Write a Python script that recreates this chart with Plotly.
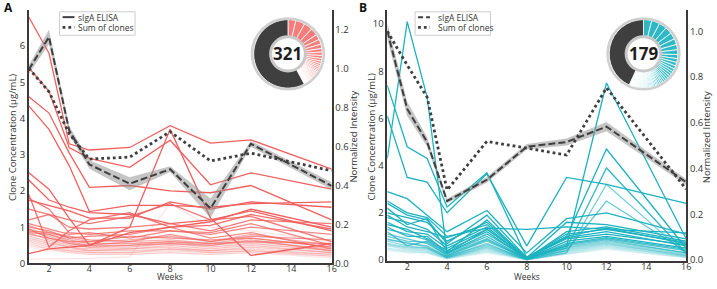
import plotly.graph_objects as go

W, H = 717, 289

weeks = [1, 2, 3, 4, 6, 8, 10, 12, 16]

# ---------------- Panel A data ----------------
elisa_a = [5.35, 6.25, 3.67, 2.73, 2.2, 2.6, 1.52, 3.3, 2.14]
elisa_a_err = [0.12, 0.2, 0.12, 0.12, 0.18, 0.08, 0.27, 0.08, 0.1]
sum_a = [1.0, 0.88, 0.665, 0.535, 0.545, 0.675, 0.525, 0.565, 0.475]

clones_a = [
    [6.8, 5.8, 3.3, 3.13, 3.2, 3.8, 3.32, 3.41, 2.6],
    [5.4, 4.75, 3.2, 2.9, 2.65, 3.4, 2.17, 2.5, 2.05],
    [4.6, 4.15, 3.05, 2.1, 2.15, 2.0, 1.95, 2.15, 1.2],
    [4.35, 3.7, 2.7, 1.43, 1.6, 1.6, 1.55, 1.65, 1.7],
    [0.27, 0.4, 0.45, 0.5, 1.0, 3.7, 1.25, 0.22, 0.55],
    [2.5, 2.05, 1.25, 0.5, 0.85, 1.0, 1.15, 1.5, 1.0],
    [2.3, 1.75, 1.55, 1.4, 1.35, 1.1, 1.2, 1.45, 0.9],
    [1.75, 1.6, 1.45, 1.25, 1.25, 1.7, 1.5, 1.7, 1.55],
    [1.9, 0.45, 0.9, 1.2, 1.4, 1.0, 1.05, 1.35, 0.95],
    [1.5, 1.35, 1.2, 1.1, 1.3, 1.65, 1.2, 1.3, 0.6],
    [1.2, 1.35, 1.0, 0.95, 1.0, 1.1, 0.9, 1.2, 1.1],
    [1.8, 1.5, 0.85, 0.8, 0.9, 0.9, 0.85, 1.1, 0.5],
    [1.1, 0.95, 0.8, 0.85, 0.7, 0.9, 0.8, 1.0, 0.8],
    [1.0, 0.9, 0.7, 0.75, 0.8, 1.0, 0.7, 0.85, 0.4],
    [0.9, 0.85, 0.75, 0.65, 0.6, 0.8, 0.6, 0.75, 0.65],
    [0.95, 0.7, 0.6, 0.6, 0.75, 0.7, 0.65, 0.7, 0.45],
    [0.85, 0.8, 0.65, 0.55, 0.55, 0.6, 0.55, 0.6, 0.55],
    [0.8, 0.7, 0.55, 0.5, 0.5, 0.55, 0.5, 0.65, 0.35],
    [1.05, 0.85, 0.7, 0.6, 0.65, 0.75, 0.6, 0.8, 0.5],
    [0.95, 0.8, 0.6, 0.5, 0.6, 0.65, 0.55, 0.7, 0.45],
    [0.9, 0.75, 0.55, 0.45, 0.5, 0.6, 0.5, 0.6, 0.4],
    [0.85, 0.65, 0.5, 0.45, 0.45, 0.55, 0.45, 0.55, 0.35],
    [0.75, 0.6, 0.45, 0.4, 0.4, 0.5, 0.4, 0.5, 0.3],
    [0.7, 0.55, 0.45, 0.35, 0.4, 0.45, 0.35, 0.45, 0.3],
    [0.65, 0.5, 0.4, 0.35, 0.35, 0.4, 0.35, 0.4, 0.25],
    [0.6, 0.45, 0.35, 0.3, 0.3, 0.4, 0.3, 0.35, 0.25],
    [0.55, 0.4, 0.35, 0.3, 0.3, 0.35, 0.3, 0.35, 0.2],
    [0.5, 0.4, 0.3, 0.25, 0.25, 0.3, 0.25, 0.3, 0.2],
    [0.12, 0.12, 0.13, 0.14, 0.18, 1.65, 1.0, 0.9, 0.6],
    [0.45, 0.35, 0.3, 0.25, 0.25, 0.3, 0.25, 0.3, 0.15],
]

# donut A: clone shares (degrees of arc) + rest
pie_a_clones = [13, 15, 14, 12, 9, 8, 7, 6, 5.5, 5, 4.5, 4, 3.5, 3, 3, 2.5, 2.5,
                2, 2, 2, 1.8, 1.8, 1.6, 1.6, 1.5, 1.5, 1.4, 1.4, 1.3, 1.3, 1.2,
                1.2, 1.1, 1.1, 1.0, 1.0, 1.0]
pie_a_rest = 201
count_a = "321"

# ---------------- Panel B data ----------------
elisa_b = [9.7, 6.4, 5.0, 2.5, 3.4, 4.8, 5.0, 5.65, 3.3]
elisa_b_err = [0.35, 0.3, 0.2, 0.1, 0.12, 0.12, 0.15, 0.2, 0.12]
sum_b = [1.0, 0.852, 0.712, 0.306, 0.519, 0.49, 0.459, 0.753, 0.31]

clones_b = [
    [4.3, 10.1, 6.9, 0.3, 1.3, 0.1, 0.6, 7.5, 0.9],
    [7.4, 4.8, 4.3, 2.25, 3.7, 0.1, 1.0, 4.7, 0.5],
    [6.1, 3.5, 3.3, 2.0, 3.65, 0.6, 3.5, 3.2, 2.4],
    [2.9, 2.6, 1.9, 1.2, 2.1, 0.3, 1.75, 2.0, 1.1],
    [2.5, 2.0, 1.8, 1.0, 1.35, 1.3, 1.4, 1.3, 1.15],
    [2.4, 1.9, 1.7, 0.7, 1.9, 0.1, 1.6, 1.5, 0.9],
    [2.2, 1.5, 1.75, 0.35, 1.7, 0.05, 1.2, 1.4, 0.8],
    [2.0, 1.8, 1.6, 0.8, 1.6, 0.1, 1.1, 1.3, 0.75],
    [1.9, 1.4, 1.2, 0.95, 1.5, 0.1, 1.0, 1.35, 0.7],
    [1.8, 1.6, 1.3, 0.6, 1.4, 0.05, 0.95, 1.2, 0.6],
    [1.6, 1.2, 1.1, 0.5, 1.3, 0.1, 0.9, 1.1, 0.65],
    [1.5, 1.3, 0.9, 0.4, 1.2, 0.05, 0.8, 1.0, 0.5],
    [1.4, 1.0, 1.0, 0.3, 1.1, 0.1, 0.5, 3.9, 0.3],
    [1.3, 1.1, 0.85, 0.3, 1.0, 0.05, 0.7, 0.95, 0.45],
    [1.2, 0.6, 0.8, 0.25, 0.9, 0.05, 0.65, 0.9, 0.4],
    [1.1, 0.9, 0.7, 0.2, 0.85, 0.05, 0.4, 2.5, 0.35],
    [1.0, 0.8, 0.75, 0.2, 0.8, 0.05, 0.6, 0.85, 0.3],
    [0.9, 0.7, 0.6, 0.15, 0.7, 0.02, 0.3, 3.2, 0.25],
    [0.85, 0.75, 0.55, 0.15, 0.65, 0.05, 0.55, 0.8, 0.3],
    [0.8, 0.6, 0.5, 0.12, 0.6, 0.03, 0.5, 0.75, 0.25],
    [0.7, 0.55, 0.5, 0.1, 0.55, 0.03, 0.45, 0.7, 0.2],
    [0.65, 0.5, 0.45, 0.1, 0.5, 0.02, 0.4, 0.65, 0.2],
    [0.6, 0.45, 0.4, 0.08, 0.45, 0.02, 0.35, 0.6, 0.15],
    [0.5, 0.4, 0.35, 0.08, 0.4, 0.02, 0.3, 0.55, 0.15],
    [0.45, 0.35, 0.3, 0.05, 0.35, 0.01, 0.25, 0.5, 0.1],
    [0.4, 0.3, 0.3, 0.05, 0.3, 0.01, 0.25, 0.45, 0.1],
]

pie_b_clones = [14, 14, 13, 12, 11, 10, 9, 8, 7, 6.5, 6, 5.5, 5, 4.5, 4.5, 4, 4,
                3.5, 3.5, 3, 3, 3, 2.5, 2.5, 2.5, 2, 2, 2, 2, 2, 1.5, 1.5, 1.5,
                1.5, 1.5, 1.5, 1.2, 1.2, 1.2, 1.2, 1.2, 1.2, 1.2, 1.2, 1.2, 1.2,
                1, 1, 1, 1, 1, 1, 1, 1, 1, 1, 1, 1]
pie_b_rest = 155
count_b = "179"

week_ticks = [2, 4, 6, 8, 10, 12, 14, 16]

# ---------------- styling ----------------
RED = (241, 96, 94)
CYAN = (28, 178, 192)
DARK = "#3f3f3f"
SPINE = "#3a3a3a"
FONT = "Open Sans"
TXT = "#333333"


def px_x(p):
    return p / W


def px_y(p):
    return 1 - p / H


def rgba(c, a):
    return "rgba(%d,%d,%d,%.3f)" % (c[0], c[1], c[2], a)


def mix_white(c, f):
    return "rgb(%d,%d,%d)" % tuple(int(round(v + (255 - v) * f)) for v in c)


fig = go.Figure()


def add_panel(clones, elisa, err, summ, base, xa, ya, ya2, n_strong):
    n = len(clones)
    ops = []
    for i in range(n):
        if i < n_strong:
            ops.append(1.0)
        else:
            ops.append(max(0.13, 0.9 - (i - n_strong) * 0.77 / max(1, n - n_strong - 1)))
    for i in reversed(range(n)):
        fig.add_trace(go.Scatter(x=weeks, y=clones[i], mode="lines",
                                 line=dict(color=rgba(base, ops[i]), width=1.3),
                                 xaxis=xa, yaxis=ya, showlegend=False, hoverinfo="skip"))
    upper = [e + r for e, r in zip(elisa, err)]
    lower = [e - r for e, r in zip(elisa, err)]
    fig.add_trace(go.Scatter(x=weeks + weeks[::-1], y=upper + lower[::-1], fill="toself",
                             fillcolor="rgba(140,140,140,0.5)", line=dict(width=0),
                             mode="lines", xaxis=xa, yaxis=ya, showlegend=False,
                             hoverinfo="skip"))
    fig.add_trace(go.Scatter(x=weeks, y=elisa, mode="lines",
                             line=dict(color=DARK, width=2, dash="7px,3px"),
                             xaxis=xa, yaxis=ya, showlegend=False))
    fig.add_trace(go.Scatter(x=weeks, y=summ, mode="lines",
                             line=dict(color=DARK, width=2.8, dash="2.8px,3px"),
                             xaxis=xa, yaxis=ya2, showlegend=False))


add_panel(clones_a, elisa_a, elisa_a_err, sum_a, RED, "x", "y", "y2", 8)
add_panel(clones_b, elisa_b, elisa_b_err, sum_b, CYAN, "x2", "y3", "y4", 12)

shapes = []
annotations = []


def add_donut(clones, rest, base, cx, cy, r, label, light0, expo):
    n = len(clones)
    cols = [mix_white(base, light0 + (0.94 - light0) * (i / (n - 1)) ** expo) for i in range(n)]
    cols.append(DARK)
    fig.add_trace(go.Pie(values=clones + [rest], sort=False, direction="clockwise",
                         rotation=0, hole=0.5, textinfo="none", hoverinfo="skip",
                         showlegend=False,
                         marker=dict(colors=cols, line=dict(color="white", width=0.8)),
                         domain=dict(x=[px_x(cx - r), px_x(cx + r)],
                                     y=[px_y(cy + r), px_y(cy - r)])))
    ro = r + 1.2
    shapes.append(dict(type="circle", xref="paper", yref="paper",
                       x0=px_x(cx - ro), x1=px_x(cx + ro), y0=px_y(cy + ro), y1=px_y(cy - ro),
                       line=dict(color="#cfcfcf", width=2.5)))
    ri = r * 0.5
    shapes.append(dict(type="circle", xref="paper", yref="paper",
                       x0=px_x(cx - ri), x1=px_x(cx + ri), y0=px_y(cy + ri), y1=px_y(cy - ri),
                       line=dict(color="#c8c8c8", width=3), fillcolor="white"))
    annotations.append(dict(text="<b>%s</b>" % label, x=px_x(cx), y=px_y(cy),
                            xref="paper", yref="paper", showarrow=False,
                            xanchor="center", yanchor="middle",
                            font=dict(family=FONT, size=17, color="#1e1e1e")))


add_donut(pie_a_clones, pie_a_rest, RED, 290, 55, 35, count_a, 0.18, 2.0)
add_donut(pie_b_clones, pie_b_rest, CYAN, 648, 55, 35, count_b, 0.08, 2.2)


def add_legend(x0, x1, y0, y1, tx, first_dash):
    shapes.append(dict(type="rect", xref="paper", yref="paper",
                       x0=px_x(x0), x1=px_x(x1), y0=px_y(y1), y1=px_y(y0),
                       line=dict(color="#cccccc", width=1), fillcolor="white"))
    r1 = y0 + 5.5
    r2 = y0 + 16
    shapes.append(dict(type="line", xref="paper", yref="paper",
                       x0=px_x(x0 + 3), x1=px_x(x0 + 15), y0=px_y(r1), y1=px_y(r1),
                       line=dict(color=DARK, width=2, dash=first_dash)))
    shapes.append(dict(type="line", xref="paper", yref="paper",
                       x0=px_x(x0 + 3), x1=px_x(x0 + 15), y0=px_y(r2), y1=px_y(r2),
                       line=dict(color=DARK, width=2.8, dash="2.8px,3px")))
    for t, yy in (("sIgA ELISA", r1), ("Sum of clones", r2)):
        annotations.append(dict(text=t, x=px_x(tx), y=px_y(yy), xref="paper", yref="paper",
                                xanchor="left", yanchor="middle", showarrow=False,
                                borderpad=0,
                                font=dict(family=FONT, size=8.5, color=TXT)))


add_legend(60, 136, 12, 36, 78, "solid")
add_legend(418, 494, 12, 36, 440, "5px,3px")

# axis titles
for xp, t in ((12, "Clone Concentration (μg/mL)"), (356, "Normalized Intensity"),
              (374, "Clone Concentration (μg/mL)"), (711, "Normalized Intensity")):
    annotations.append(dict(text=t, x=px_x(xp), y=px_y(140), xref="paper", yref="paper",
                            textangle=-90, showarrow=False, xanchor="center", yanchor="middle",
                            font=dict(family=FONT, size=9.5, color=TXT)))
for xa in ("x", "x2"):
    annotations.append(dict(text="Weeks", x=8, xref=xa, y=px_y(289), yref="paper",
                            showarrow=False, xanchor="center", yanchor="bottom", borderpad=0,
                            font=dict(family=FONT, size=8.5, color=TXT)))
for xp, t in ((9, "A"), (366, "B")):
    annotations.append(dict(text="<b>%s</b>" % t, x=px_x(xp), y=px_y(8), xref="paper",
                            yref="paper", showarrow=False, xanchor="center", yanchor="middle",
                            font=dict(family=FONT, size=12, color="#111")))

axis_common = dict(showline=True, linecolor=SPINE, linewidth=1.6, ticks="", showgrid=False,
                   zeroline=False, tickfont=dict(family=FONT, size=9.5, color=TXT))
xaxis_common = dict(axis_common, tickfont=dict(family=FONT, size=9, color=TXT),
                    ticklabelstandoff=-4)

fig.update_layout(
    width=W, height=H, margin=dict(l=0, r=0, t=0, b=0),
    paper_bgcolor="white", plot_bgcolor="white", showlegend=False,
    xaxis=dict(domain=[px_x(29), px_x(334)], range=[1, 16], tickvals=week_ticks,
               anchor="y", **xaxis_common),
    yaxis=dict(domain=[px_y(269), px_y(10)], range=[0, 7.0], tickvals=[0, 1, 2, 3, 4, 5, 6],
               anchor="x", **axis_common),
    yaxis2=dict(overlaying="y", side="right", range=[0, 1.3],
                tickvals=[0, 0.2, 0.4, 0.6, 0.8, 1.0, 1.2], tickformat=".1f", anchor="x",
                **axis_common),
    xaxis2=dict(domain=[px_x(390), px_x(691)], range=[1, 16], tickvals=week_ticks,
                anchor="y3", **xaxis_common),
    yaxis3=dict(domain=[px_y(266.5), px_y(10)], range=[-0.04, 10.6],
                tickvals=[0, 2, 4, 6, 8, 10], anchor="x2", **axis_common),
    yaxis4=dict(overlaying="y3", side="right", range=[-0.004, 1.094],
                tickvals=[0, 0.2, 0.4, 0.6, 0.8, 1.0], tickformat=".1f", anchor="x2",
                **axis_common),
    shapes=shapes, annotations=annotations,
)

fig.write_html("out.html", config={"displayModeBar": False},
               post_script="document.body.style.margin='0';"
                           "document.body.style.overflow='hidden';")
